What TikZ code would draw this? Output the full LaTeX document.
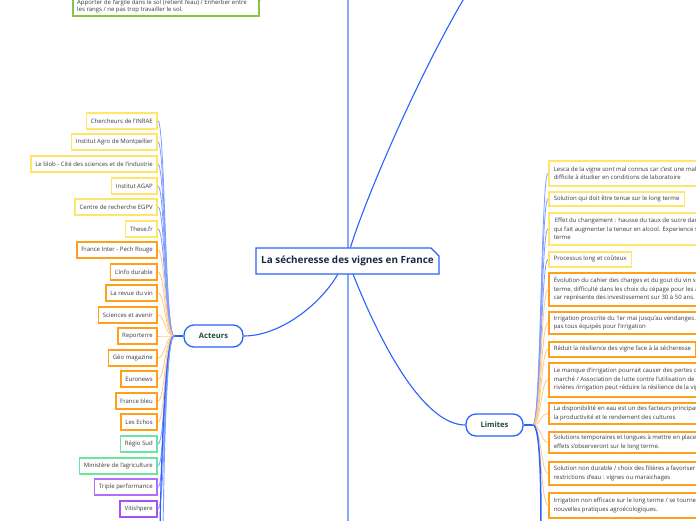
\documentclass[tikz,border=0pt]{standalone}
\usepackage{fontspec}
\setmainfont{Open Sans}
\usetikzlibrary{shapes.misc}
\definecolor{ylw}{HTML}{FFE66A}
\definecolor{org}{HTML}{FF9F1C}
\definecolor{grn}{HTML}{6FE49E}
\definecolor{pur1}{HTML}{B56BFF}
\definecolor{pur2}{HTML}{A552F2}
\definecolor{olv}{HTML}{8BC34A}
\definecolor{mblue}{HTML}{2962FF}
\definecolor{lblue}{HTML}{7F9DFF}
\definecolor{vblue}{HTML}{8AA6F8}
\definecolor{lorg}{HTML}{FFC785}
\definecolor{txt}{HTML}{3A3A3A}
\definecolor{ttl}{HTML}{1A2847}
\definecolor{brn}{HTML}{1E4D3B}
\pgfdeclarelayer{background}
\pgfsetlayers{background,main}
\begin{document}
\begin{tikzpicture}[x=1pt,y=-1pt,
  leaf/.style={draw, line width=1.6pt, fill=white, inner xsep=4.5pt, inner ysep=0pt,
    minimum height=15.5pt, font=\fontsize{6}{7.5}\selectfont, text=txt, anchor=east},
  rbox/.style={draw, line width=1.6pt, fill=white, inner xsep=5pt, inner ysep=2pt,
    anchor=north west, align=left, font=\fontsize{6}{8.4}\selectfont, text=txt},
  hub/.style={draw=mblue, line width=1.3pt, fill=white, rounded corners=10pt,
    minimum height=22pt, font=\bfseries\fontsize{7.6}{9}\selectfont, text=brn},
  bconn/.style={draw=lblue, line width=0.8pt},
  oconn/.style={draw=lorg, line width=0.8pt},
  mconn/.style={draw=mblue, line width=1.1pt}]
\clip (0,0) rectangle (696,520);

% off-page coordinates
\coordinate (vtop) at (348,-10);
\coordinate (vbot) at (348,530);
\coordinate (upoff) at (472,-15);
\coordinate (hubL) at (174,336);
\coordinate (hubR) at (533,425);
\coordinate (offL1) at (160,530);
\coordinate (offL2) at (163,530);
\coordinate (offR) at (541,530);
\coordinate (tlc1) at (257,4);
\coordinate (tlc2) at (263,-12);

% top-left box
\node[draw=olv, line width=1.6pt, fill=white, minimum width=186pt, minimum height=40pt,
  anchor=south west, inner sep=0pt] (tlbox) at (72,17) {};
\node[anchor=south west, inner sep=0pt, align=left, font=\fontsize{6}{6.9}\selectfont, text=txt]
  (tltext) at (77,13.4) {Apporter de l'argile dans le sol (retient l'eau) / Enherber entre\\les rangs / ne pas trop travailler le sol.};

% central node
\node[chamfered rectangle, chamfered rectangle corners=north east,
  chamfered rectangle xsep=4pt, chamfered rectangle ysep=4pt,
  draw=mblue, line width=1.4pt, fill=white, minimum width=183pt, minimum height=26pt,
  inner sep=0pt, font=\bfseries\fontsize{9.9}{11}\selectfont, text=ttl] (title) at (347.5,261)
  {La sécheresse des vignes en France};

\node[hub, minimum width=59pt] (act) at (213.5,336) {Acteurs};
\node[hub, minimum width=57pt] (lim) at (494.5,425) {Limites};

% left leaves
\node[leaf, draw=ylw] (a1) at (158,121) {Chercheurs de l'INRAE};
\node[leaf, draw=ylw] (a2) at (158,142) {Institut Agro de Montpellier};
\node[leaf, draw=ylw] (a3) at (158,164) {Le blob - Cité des sciences et de l'industrie};
\node[leaf, draw=ylw] (a4) at (158,186) {Institut AGAP};
\node[leaf, draw=ylw] (a5) at (158,207) {Centre de recherche EGPV};
\node[leaf, draw=ylw] (a6) at (158,229) {These.fr};
\node[leaf, draw=org] (a7) at (158,250) {France Inter - Pech Rouge};
\node[leaf, draw=org] (a8) at (158,272) {L'info durable};
\node[leaf, draw=org] (a9) at (158,293) {La revue du vin};
\node[leaf, draw=org] (a10) at (158,315) {Sciences et avenir};
\node[leaf, draw=org] (a11) at (158,336) {Reporterre};
\node[leaf, draw=org] (a12) at (158,358) {Géo magazine};
\node[leaf, draw=org] (a13) at (158,379) {Euronews};
\node[leaf, draw=org] (a14) at (158,401) {France bleu};
\node[leaf, draw=org] (a15) at (158,422) {Les Echos};
\node[leaf, draw=grn] (a16) at (158,444) {Régio Sud};
\node[leaf, draw=grn] (a17) at (158,466) {Ministère de l'agriculture};
\node[leaf, draw=pur1] (a18) at (158,487) {Triple performance};
\node[leaf, draw=pur2] (a19) at (158,509) {Vitishpere};

% right boxes
\node[rbox, draw=ylw, minimum height=25pt] (r1) at (548,160)
  {Lesca de la vigne sont mal connus car c'est une maladie\\difficile à étudier en conditions de laboratoire};
\node[rbox, draw=ylw, minimum height=14pt] (r2) at (548,191)
  {Solution qui doit être tenue sur le long terme};
\node[rbox, draw=ylw, minimum height=32pt] (r3) at (548,212)
  {\hspace{1pt}Effet du changement : hausse du taux de sucre dans le raisin\\qui fait augmenter la teneur en alcool. Experience sur le long\\terme};
\node[rbox, draw=ylw, minimum height=15pt] (r4) at (548,251)
  {Processus long et coûteux};
\node[rbox, draw=org, minimum height=33pt] (r5) at (548,272)
  {Évolution du cahier des charges et du gout du vin sur le long\\terme, difficulté dans les choix du cépage pour les agriculteurs\\car représente des investissement sur 30 à 50 ans.};
\node[rbox, draw=org, minimum height=22pt] (r6) at (548,311)
  {Irrigation proscrite du 1er mai jusqu'au vendanges / agriculteurs\\pas tous équipés pour l'irrigation};
\node[rbox, draw=org, minimum height=15pt] (r7) at (548,341)
  {Réduit la résilience des vigne face à la sécheresse};
\node[rbox, draw=org, minimum height=34pt] (r8) at (548,362)
  {Le manque d'irrigation pourrait causer des pertes de parts de\\marché / Association de lutte contre l'utilisation de l'eau des\\rivières /irrigation peut réduire la résilience de la vigne};
\node[rbox, draw=org, minimum height=21pt] (r9) at (548,402)
  {La disponibilité en eau est un des facteurs principaux de\\la productivité et le rendement des cultures};
\node[rbox, draw=org, minimum height=21pt] (r10) at (548,431)
  {Solutions temporaires et longues à mettre en place : les\\effets s'observeront sur le long terme.};
\node[rbox, draw=org, minimum height=23pt] (r11) at (548,461)
  {Solution non durable / choix des filières a favoriser en cas de\\restrictions d'eau : vignes ou maraichages};
\node[rbox, draw=org, minimum height=25pt] (r12) at (548,492)
  {Irrigation non efficace sur le long terme / se tourner vers de\\nouvelles pratiques agroécologiques.};

\begin{pgfonlayer}{background}
\fill[white] (0,0) rectangle (696,520);
\draw[draw=vblue, line width=2pt] (vtop) -- (vbot);
\draw[draw=vblue, line width=0.8pt] (tlc1) .. controls (261,0) .. (tlc2);
% main branches
\draw[mconn] (title.north) ++(3,0) coordinate (tn) .. controls (365,200) and (420,70) .. (upoff);
\draw[mconn] (338,274) coordinate (ts1) .. controls (320,305) and (280,336) .. (act.east);
\draw[mconn] (353,274) coordinate (ts2) .. controls (375,330) and (420,425) .. (lim.west);
% left hub
\draw[draw=mblue, line width=1.5pt] (act.west) -- (hubL);
\foreach \n/\s in {a1/bconn,a2/bconn,a3/bconn,a4/bconn,a5/bconn,a6/bconn,
  a7/oconn,a8/oconn,a9/oconn,a10/oconn,a11/oconn,a12/oconn,a13/oconn,a14/oconn,a15/oconn,
  a16/bconn,a17/bconn,a18/bconn,a19/bconn}
  \draw[\s] (hubL) .. controls +(-9,0) and +(7,0) .. (\n.east);
\draw[draw=mblue, line width=1.2pt] (hubL) .. controls +(-9,0) and +(1,-60) .. (offL1);
\draw[draw=lblue, line width=0.9pt] (hubL) .. controls +(-8,0) and +(1,-60) .. (offL2);
% right hub
\draw[draw=mblue, line width=1.5pt] (lim.east) -- (hubR);
\foreach \n/\s in {r1/bconn,r2/bconn,r3/bconn,r4/bconn,
  r5/oconn,r6/oconn,r7/oconn,r8/oconn,r9/oconn,r10/oconn,r11/oconn,r12/oconn}
  \draw[\s] (hubR) .. controls +(8,0) and +(-7,0) .. (\n.west);
\draw[draw=mblue, line width=1.5pt] (hubR) .. controls +(7,0) and +(0,-50) .. (offR);
\end{pgfonlayer}
\end{tikzpicture}
\end{document}
